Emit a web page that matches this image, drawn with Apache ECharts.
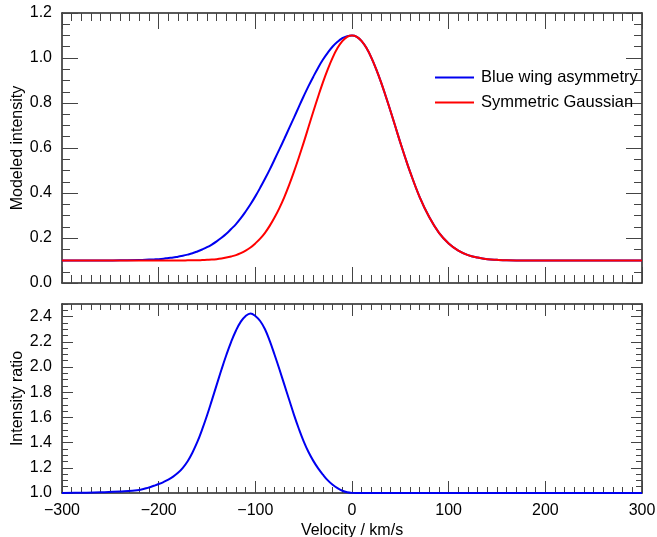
<!DOCTYPE html>
<html>
<head>
<meta charset="utf-8">
<script src="https://cdn.jsdelivr.net/npm/echarts@6/dist/echarts.min.js"></script>
<style>
  html, body { margin: 0; padding: 0; background: #fff; }
  #chart { width: 657px; height: 537px; }
</style>
</head>
<body>
<div id="chart"></div>
<script>
// velocity grid, km/s (denser where the profiles change)
const velocity = [
  -300, -280, -260, -240, -220,
  -210, -205, -200, -195, -190, -185, -180, -175, -170, -165,
  -160, -155, -150, -145, -140, -135, -130, -125, -120, -115,
  -110, -105, -100, -95, -90, -85, -80, -75, -70, -65,
  -60, -55, -50, -45, -40, -35, -30, -25, -20, -15,
  -10, -5, 0, 5, 10, 15, 20, 25, 30, 35,
  40, 45, 50, 55, 60,
  70, 80, 90, 100, 110, 120, 130, 140, 150, 160,
  180, 200, 220, 240, 260, 280, 300
];

// top panel: modeled intensity
const blueWing = [
  0.100, 0.100, 0.100, 0.101, 0.102,
  0.104, 0.105, 0.106, 0.108, 0.111, 0.113, 0.117, 0.121, 0.126, 0.132,
  0.140, 0.149, 0.159, 0.171, 0.185, 0.201, 0.219, 0.240, 0.262, 0.288,
  0.318, 0.350, 0.385, 0.423, 0.463, 0.505, 0.550, 0.595, 0.641, 0.688,
  0.735, 0.783, 0.830, 0.875, 0.917, 0.957, 0.993, 1.024, 1.051, 1.072,
  1.088, 1.097, 1.100, 1.094, 1.075, 1.044, 1.002, 0.951, 0.893, 0.829,
  0.762, 0.693, 0.624, 0.558, 0.495,
  0.382, 0.292, 0.223, 0.176, 0.144, 0.124, 0.113, 0.106, 0.103, 0.101,
  0.100, 0.100, 0.100, 0.100, 0.100, 0.100, 0.100
];
const symGauss = [
  0.100, 0.100, 0.100, 0.100, 0.100,
  0.100, 0.100, 0.100, 0.100, 0.100, 0.100, 0.100, 0.100, 0.101, 0.101,
  0.101, 0.102, 0.103, 0.104, 0.106, 0.109, 0.113, 0.118, 0.124, 0.133,
  0.144, 0.158, 0.176, 0.197, 0.223, 0.255, 0.292, 0.334, 0.382, 0.436,
  0.495, 0.558, 0.624, 0.693, 0.762, 0.829, 0.893, 0.951, 1.002, 1.044,
  1.075, 1.094, 1.100, 1.094, 1.075, 1.044, 1.002, 0.951, 0.893, 0.829,
  0.762, 0.693, 0.624, 0.558, 0.495,
  0.382, 0.292, 0.223, 0.176, 0.144, 0.124, 0.113, 0.106, 0.103, 0.101,
  0.100, 0.100, 0.100, 0.100, 0.100, 0.100, 0.100
];

// bottom panel: intensity ratio
const ratio = [
  1.000, 1.002, 1.005, 1.011, 1.024,
  1.044, 1.057, 1.071, 1.087, 1.106, 1.130, 1.160, 1.200, 1.252, 1.322,
  1.405, 1.505, 1.615, 1.735, 1.858, 1.980, 2.095, 2.200, 2.290, 2.360,
  2.405, 2.425, 2.405, 2.365, 2.300, 2.205, 2.095, 1.980, 1.860, 1.740,
  1.620, 1.510, 1.410, 1.325, 1.255, 1.195, 1.145, 1.100, 1.065, 1.038,
  1.018, 1.006, 1.001, 1.000, 1.000, 1.000, 1.000, 1.000, 1.000, 1.000,
  1.000, 1.000, 1.000, 1.000, 1.000,
  1.000, 1.000, 1.000, 1.000, 1.000, 1.000, 1.000, 1.000, 1.000, 1.000,
  1.000, 1.000, 1.000, 1.000, 1.000, 1.000, 1.000
];

const seriesNames = ['Blue wing asymmetry', 'Symmetric Gaussian'];
const FONT = '"Liberation Sans", Arial, Helvetica, sans-serif';

function pairs(ys) {
  return velocity.map((v, i) => [v, ys[i]]);
}

// every side of each panel gets two stacked axes: long major ticks + short minor ticks
function frameAxes(dim, grid, min, max, major, minor, majorLen, minorLen, label, name) {
  const sides = dim === 'x' ? ['bottom', 'top'] : ['left', 'right'];
  const out = [];
  sides.forEach((side, k) => {
    const showLab = label && k === 0;
    out.push({
      type: 'value', gridIndex: grid, position: side, min: min, max: max, interval: major,
      axisLine: { show: true, onZero: false, lineStyle: { color: '#222', width: 1.5 } },
      axisTick: { show: true, inside: true, length: majorLen, lineStyle: { color: '#444', width: 1 } },
      splitLine: { show: false },
      axisLabel: {
        show: showLab, margin: 10, color: '#000', fontSize: 16, fontFamily: FONT,
        showMaxLabel: dim === 'x' || max !== 2.5 ? true : false,
        formatter: dim === 'x'
          ? (v) => String(v).replace('-', '\u2212')
          : (v) => v.toFixed(1)
      },
      name: k === 0 ? name : '',
      nameLocation: 'middle',
      nameMoveOverlap: false,
      nameGap: dim === 'x' ? 30 : 36,
      nameTextStyle: { color: '#000', fontSize: 16, fontFamily: FONT }
    });
    out.push({
      type: 'value', gridIndex: grid, position: side, min: min, max: max, interval: minor,
      axisLine: { show: false, onZero: false },
      axisTick: { show: true, inside: true, length: minorLen, lineStyle: { color: '#444', width: 1 } },
      splitLine: { show: false },
      axisLabel: { show: false }
    });
  });
  return out;
}

const chart = echarts.init(document.getElementById('chart'));

const option = {
  animation: false,
  backgroundColor: '#fff',
  textStyle: { fontFamily: FONT },
  grid: [
    { left: 62, right: 15, top: 13, height: 270, containLabel: false, outerBoundsMode: 'none' },
    { left: 62, right: 15, top: 304, height: 189, containLabel: false, outerBoundsMode: 'none' }
  ],
  xAxis: [].concat(
    frameAxes('x', 0, -300, 300, 100, 10, 16, 8, false, ''),
    frameAxes('x', 1, -300, 300, 100, 10, 12, 6, true, 'Velocity / km/s')
  ),
  yAxis: [].concat(
    frameAxes('y', 0, 0, 1.2, 0.2, 0.05, 16, 8, true, 'Modeled intensity'),
    frameAxes('y', 1, 1.0, 2.5, 0.2, 0.05, 11, 6, true, 'Intensity ratio')
  ),
  legend: {
    data: seriesNames,
    orient: 'vertical',
    left: 430,
    top: 64,
    itemWidth: 39,
    itemHeight: 2,
    itemGap: 8,
    icon: 'rect',
    textStyle: { color: '#000', fontSize: 16.5, fontFamily: FONT, padding: [0, 0, 0, 2] }
  },
  series: [
    {
      name: seriesNames[0], type: 'line', xAxisIndex: 0, yAxisIndex: 0,
      data: pairs(blueWing), showSymbol: false, symbol: 'none', smooth: 0.4,
      lineStyle: { color: '#0000f0', width: 2 }, itemStyle: { color: '#0000f0' }
    },
    {
      name: seriesNames[1], type: 'line', xAxisIndex: 0, yAxisIndex: 0,
      data: pairs(symGauss), showSymbol: false, symbol: 'none', smooth: 0.4,
      lineStyle: { color: '#ff0000', width: 2 }, itemStyle: { color: '#ff0000' }
    },
    {
      name: 'ratio', type: 'line', xAxisIndex: 4, yAxisIndex: 4,
      data: pairs(ratio), showSymbol: false, symbol: 'none', smooth: 0.4,
      lineStyle: { color: '#0000f0', width: 2 }, itemStyle: { color: '#0000f0' }
    }
  ]
};

chart.setOption(option);
</script>
</body>
</html>
